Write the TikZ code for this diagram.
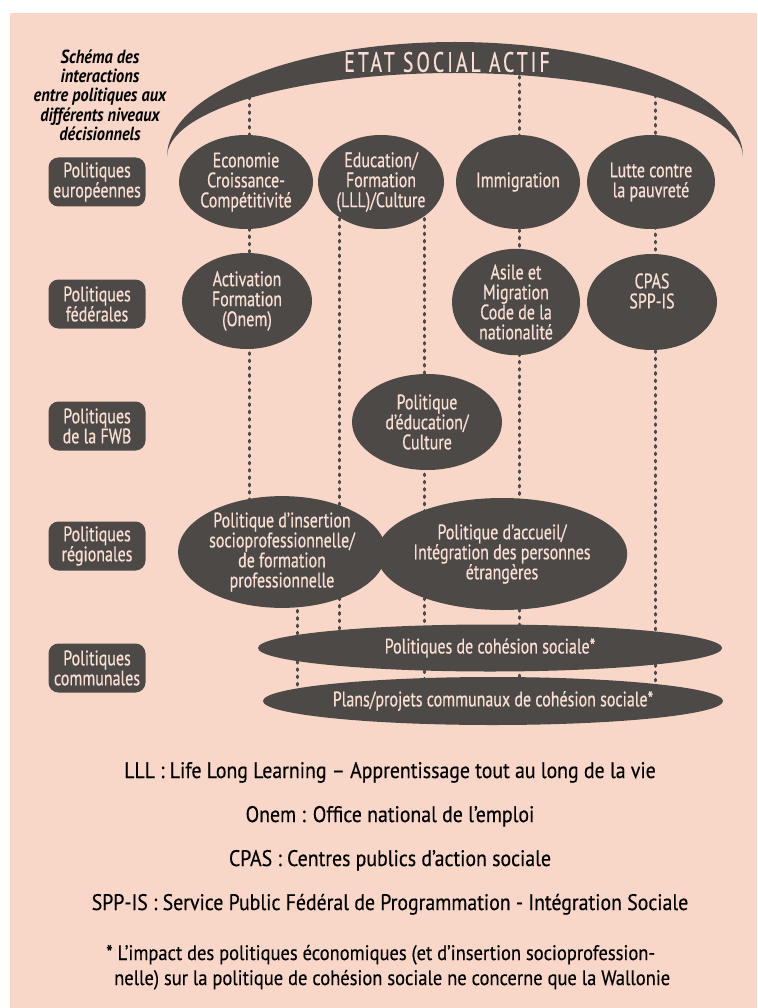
\documentclass[tikz,border=0pt]{standalone}
\usepackage{fontspec}
\setmainfont{PT Sans}[FakeStretch=0.76,FakeBold=0.5]
\newfontfamily\etatfont{PT Sans}[FakeStretch=0.7,LetterSpace=11,FakeBold=0.5]
\newfontfamily\legfont{PT Sans}[FakeStretch=0.88,FakeBold=0.4]
\newfontfamily\titfont{PT Sans}[FakeStretch=0.86]
\usetikzlibrary{shapes.geometric}
\definecolor{bgc}{RGB}{248,215,200}
\definecolor{dk}{RGB}{76,73,71}
\definecolor{lt}{RGB}{250,224,212}
\pgfdeclarelayer{bglayer}
\pgfdeclarelayer{lines}
\pgfsetlayers{bglayer,lines,main}
\tikzset{
  ell/.style={ellipse, fill=dk, inner sep=0pt, text=lt, align=center,
    font=\fontsize{21pt}{20pt}\selectfont},
  txt/.style={inner sep=0pt, text=lt, align=center,
    font=\fontsize{21pt}{20pt}\selectfont},
  lvl/.style={rounded corners=10pt, fill=dk, text=lt, minimum width=97pt,
    minimum height=49pt, align=center, inner sep=0pt,
    font=\fontsize{21pt}{20pt}\selectfont},
  dots/.style={draw=dk, line width=3pt, line cap=round, dash pattern=on 1.6pt off 5.7pt},
  leg/.style={inner sep=0pt, text=black, font=\legfont\fontsize{22.5pt}{22pt}\selectfont},
}
\begin{document}
\begin{tikzpicture}[x=1pt,y=-1pt]
\useasboundingbox (0,0) rectangle (757,1008);
\begin{pgfonlayer}{bglayer}
\fill[white] (0,0) rectangle (757,1008);
\fill[bgc] (10,13) rectangle (757,1008);
\end{pgfonlayer}

% arch
\fill[dk] (167,157) arc[start angle=180,end angle=0,x radius=288pt,y radius=115pt]
  arc[start angle=0,end angle=180,x radius=288pt,y radius=84pt] -- cycle;
\node[inner sep=0pt, text=lt, font=\etatfont\fontsize{28pt}{28pt}\selectfont] (etat) at (447,62) {ETAT SOCIAL ACTIF};

% title
\node[inner sep=0pt, align=center, font=\titfont\bfseries\itshape\fontsize{19pt}{19.3pt}\selectfont] (title) at (100,95)
  {Schéma des\\interactions\\entre politiques aux\\différents niveaux\\décisionnels};

% level boxes
\node[lvl] (l1) at (97,182) {Politiques\\européennes};
\node[lvl] (l2) at (97,304) {Politiques\\fédérales};
\node[lvl] (l3) at (97,426) {Politiques\\de la FWB};
\node[lvl] (l4) at (97,546) {Politiques\\régionales};
\node[lvl] (l5) at (97,668) {Politiques\\communales};

% ellipses
\node[ell, minimum width=134pt, minimum height=94pt] (eco) at (246,182) {Economie\\Croissance-\\Compétitivité};
\node[ell, minimum width=126pt, minimum height=94pt] (edu) at (381,182) {Education/\\Formation\\(LLL)/Culture};
\node[ell, minimum width=124pt, minimum height=94pt] (imm) at (518,182) {Immigration};
\node[ell, minimum width=128pt, minimum height=94pt] (lut) at (651,182) {Lutte contre\\la pauvreté};
\node[ell, minimum width=130pt, minimum height=96pt] (act) at (247,301) {Activation\\Formation\\(Onem)};
\node[ell, minimum width=128pt, minimum height=96pt] (asi) at (516,302) {Asile et\\Migration\\Code de la\\nationalité};
\node[ell, minimum width=130pt, minimum height=96pt] (cpa) at (652,302) {};
\node[txt] (cpat) at (652,291) {CPAS\\SPP-IS};
\node[ell, minimum width=150pt, minimum height=96pt] (fwb) at (427,422) {Politique\\d’éducation/\\Culture};
\node[ell, minimum width=208pt, minimum height=108pt] (ins) at (282,552) {Politique d’insertion\\socioprofessionnelle/\\de formation\\professionnelle};
\node[ell, minimum width=212pt, minimum height=112pt] (acc) at (502,554) {Politique d’accueil/\\Intégration des personnes\\étrangères};
\node[ell, minimum width=464pt, minimum height=47pt] (coh) at (490,648) {Politiques de cohésion sociale*};
\node[ell, minimum width=460pt, minimum height=48pt] (pla) at (493,701) {Plans/projets communaux de cohésion sociale*};

% connector anchors
\coordinate (c1) at (249,90);
\coordinate (c2) at (339,0);
\coordinate (c3) at (424,0);
\coordinate (c4) at (519,62);
\coordinate (c5) at (655,88);
\coordinate (c6) at (297,0);

\begin{pgfonlayer}{lines}
\draw[dots] (c1) -- (c1 |- ins.center);
\draw[dots] (c2 |- edu.center) -- (c2 |- coh.center);
\draw[dots] (c3 |- edu.center) -- (c3 |- pla.center);
\draw[dots] (c4) -- (c4 |- pla.center);
\draw[dots] (c5) -- (c5 |- pla.center);
\draw[dots] (c6 |- ins.center) -- (c6 |- pla.center);
\end{pgfonlayer}

% legend
\node[leg, anchor=base] (g1) at (390,778) {LLL : Life Long Learning – Apprentissage tout au long de la vie};
\node[leg, anchor=base] (g2) at (390,822) {Onem : Office national de l’emploi};
\node[leg, anchor=base] (g3) at (390,866) {CPAS : Centres publics d’action sociale};
\node[leg, anchor=base] (g4) at (390,910) {SPP-IS : Service Public Fédéral de Programmation - Intégration Sociale};
\node[leg, anchor=base west, font=\legfont\fontsize{21pt}{21pt}\selectfont] (f1) at (106,960) {* L’impact des politiques économiques (et d’insertion socioprofession-};
\node[leg, anchor=base west, font=\legfont\fontsize{21pt}{21pt}\selectfont] (f2) at (114,985) {nelle) sur la politique de cohésion sociale ne concerne que la Wallonie};
\end{tikzpicture}
\end{document}
